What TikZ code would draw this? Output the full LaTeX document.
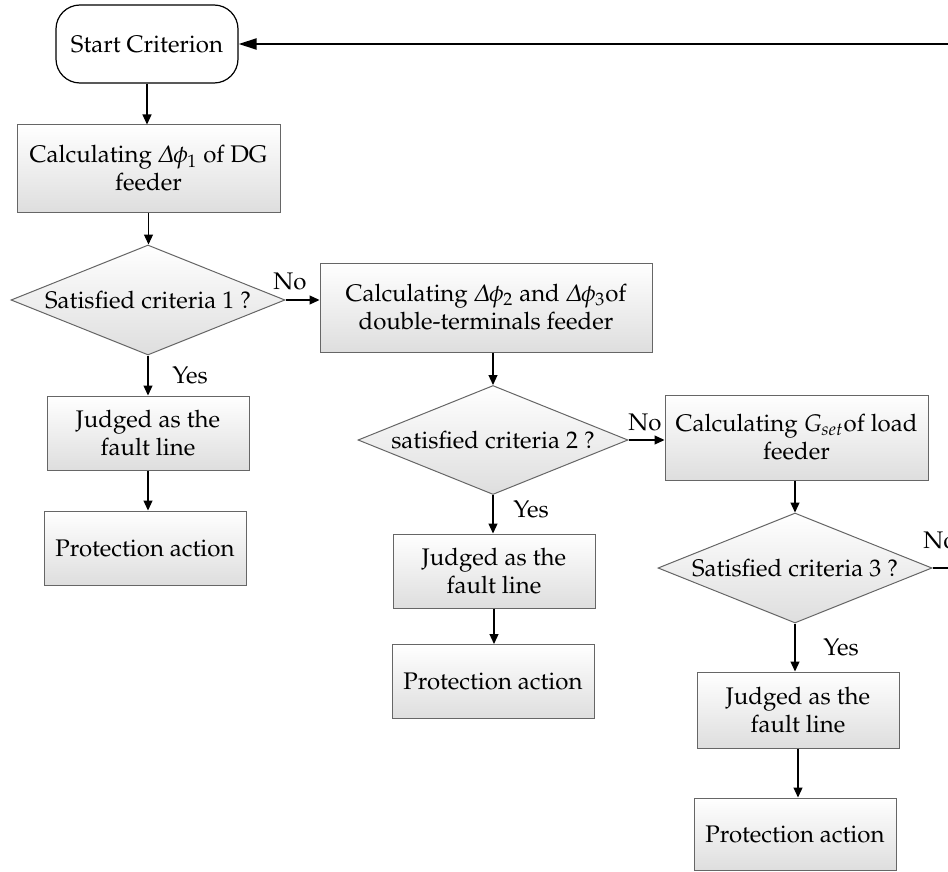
\documentclass[tikz,border=0pt]{standalone}
\usepackage[T1]{fontenc}
\usepackage[slantedGreek]{mathpazo}
\usetikzlibrary{arrows.meta,shapes.geometric}

\begin{document}
\begin{tikzpicture}[
		x=0.5pt, y=-0.5pt,
		font=\fontsize{12}{14}\selectfont,
		conn/.style={line width=0.6pt, -{Triangle[length=5pt,width=4.5pt]}},
		loopback/.style={line width=1pt, -{Triangle[length=9pt,width=5.5pt]}},
		startbox/.style={draw, line width=0.6pt, rounded corners=12pt, fill=white, minimum width=91pt, minimum height=39pt},
		block/.style={draw=black!60, line width=0.5pt, top color=white, bottom color=black!13, align=center, inner sep=2pt, minimum width=101pt, minimum height=37pt},
		decision/.style={diamond, draw=black!60, line width=0.5pt, top color=white, bottom color=black!13, aspect=2.5, inner sep=0pt, minimum width=137pt, minimum height=55pt},
		tag/.style={inner sep=1pt},
	]
		\useasboundingbox (0,0) rectangle (948,872);

		\node[startbox] (start) at (147,44) {Start Criterion};
		\node[block, minimum width=131.5pt, minimum height=43.5pt] (calc1) at (148.5,168.5) {Calculating $\Delta\phi_1$ of DG\\feeder};
		\node[decision] (crit1) at (148,300) {Satisfied criteria 1 ?};
		\node[block, minimum width=166pt, minimum height=44.5pt] (calc2) at (486,307.5) {Calculating $\Delta\phi_2$ and $\Delta\phi_3$of\\double-terminals feeder};
		\node[block] (fault1) at (148,433) {Judged as the\\fault line};
		\node[block] (act1) at (145,548) {Protection action};
		\node[decision, minimum width=135pt, minimum height=54.5pt] (crit2) at (493,440) {satisfied criteria 2 ?};
		\node[block, minimum width=131.5pt, minimum height=42.5pt] (calc3) at (796.5,437.5) {Calculating $G_{set}$of load\\feeder};
		\node[block] (fault2) at (494,571) {Judged as the\\fault line};
		\node[block] (act2) at (493,681.5) {Protection action};
		\node[decision] (crit3) at (795,568) {Satisfied criteria 3 ?};
		\node[block, minimum height=38pt] (fault3) at (798,710) {Judged as the\\fault line};
		\node[block, minimum height=36pt] (act3) at (795,834) {Protection action};

		\node[tag] (no1) at (290,281) {No};
		\node[tag] (no2) at (645,422) {No};
		\node[tag] (no3) at (940,540) {No};
		\node[tag] (yes1) at (190,375) {Yes};
		\node[tag] (yes2) at (531,509) {Yes};
		\node[tag] (yes3) at (841,647) {Yes};

		\coordinate (back) at (965,44);

		\draw[conn] (start) -- (start |- calc1.north);
		\draw[conn] (calc1) -- (calc1 |- crit1.north);
		\draw[conn] (crit1.east) -- (crit1.east -| calc2.west);
		\draw[conn] (crit1) -- (crit1 |- fault1.north);
		\draw[conn] (fault1) -- (fault1 |- act1.north);
		\draw[conn] (crit2 |- calc2.south) -- (crit2.north);
		\draw[conn] (crit2.east) -- (crit2.east -| calc3.west);
		\draw[conn] (crit2) -- (crit2 |- fault2.north);
		\draw[conn] (fault2) -- (fault2 |- act2.north);
		\draw[conn] (crit3 |- calc3.south) -- (crit3.north);
		\draw[conn] (crit3) -- (crit3 |- fault3.north);
		\draw[conn] (fault3) -- (fault3 |- act3.north);
		\draw[loopback] (crit3.east) -- (crit3.east -| back) -- (back) -- (start.east);
	\end{tikzpicture}
\end{document}
